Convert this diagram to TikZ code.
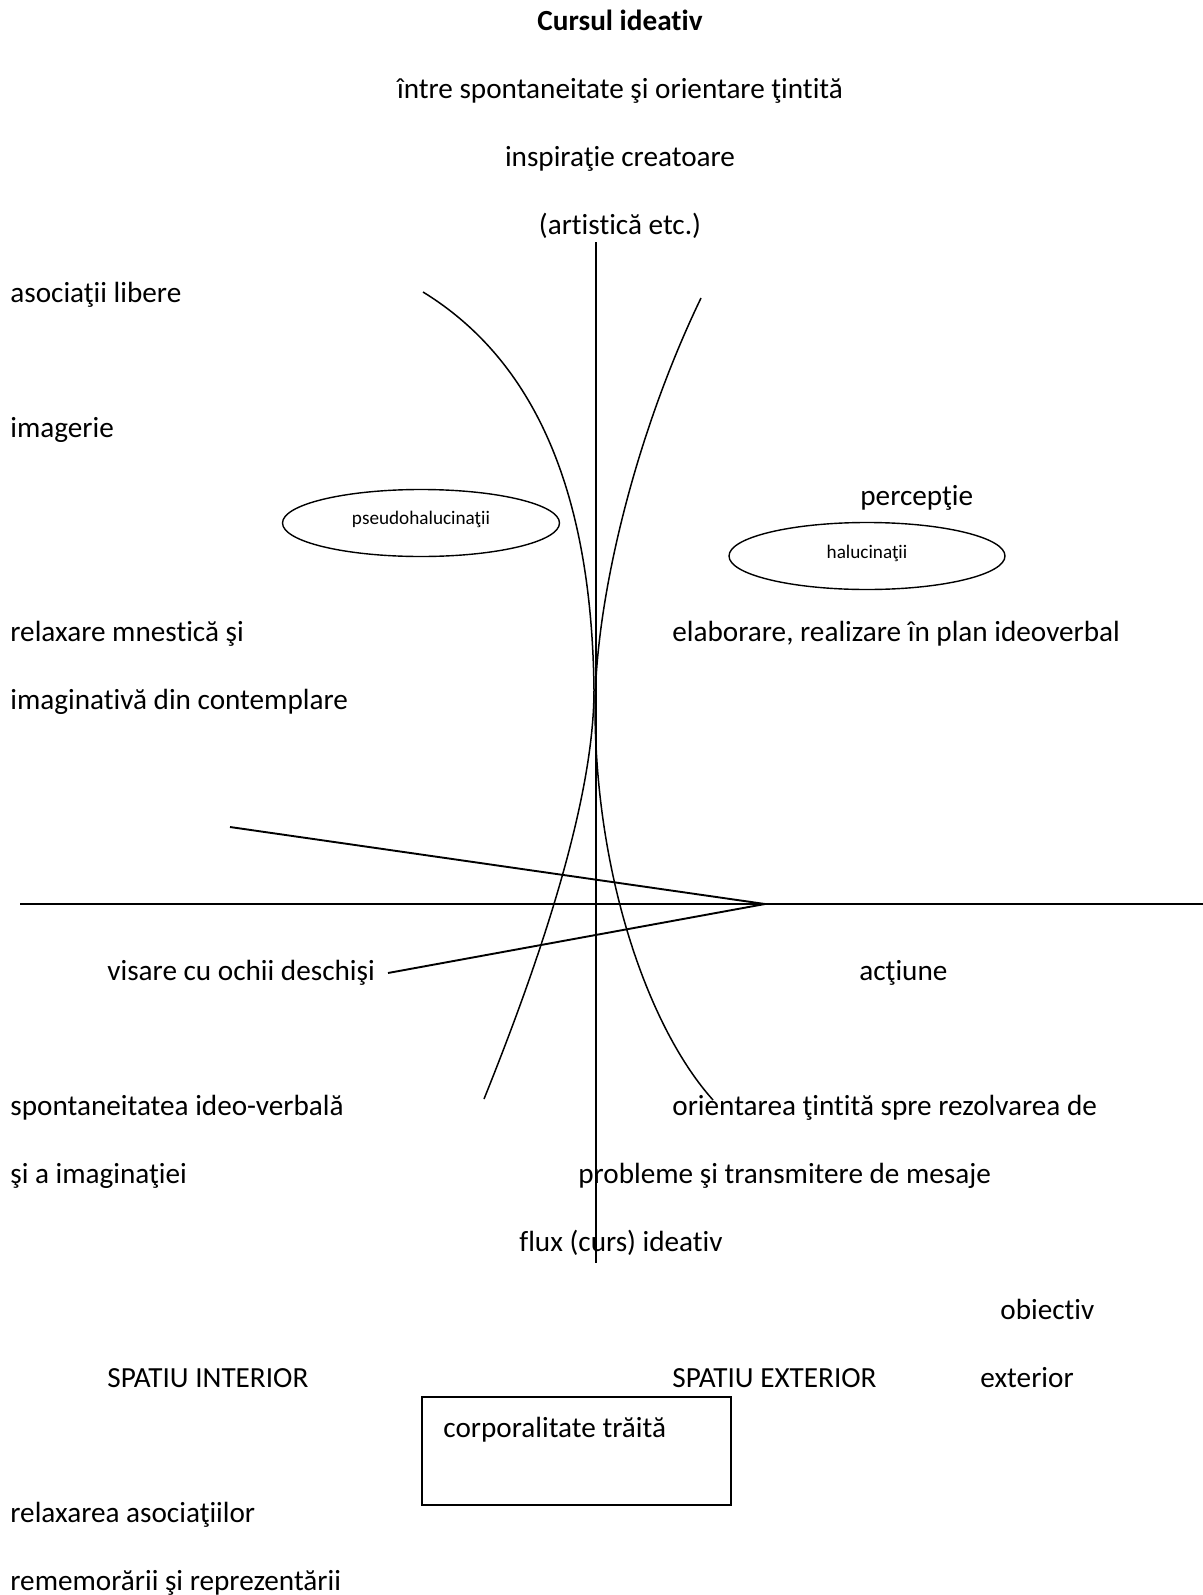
\documentclass[tikz,border=0pt]{standalone}
\usepackage{fontspec}
\setmainfont{Carlito}[Ligatures=NoCommon]
\usetikzlibrary{shapes.geometric}

\begin{document}
\begin{tikzpicture}[
    x=0.5pt, y=-0.5pt,
    txt/.style={inner sep=0pt, yshift=-1.5pt, font=\fontsize{14.6}{17.5}\selectfont},
    lefttext/.style={txt, anchor=base west},
    midtext/.style={txt, anchor=base},
    oval/.style={ellipse, draw, line width=0.7pt, minimum height=33.5pt,
      inner sep=0pt, font=\fontsize{9.6}{11}\selectfont},
    axisline/.style={line width=0.95pt},
    curve/.style={line width=0.75pt},
  ]
    \useasboundingbox (0,0) rectangle (1203,1595);

    \node[midtext, font=\fontsize{14.6}{17.5}\selectfont\bfseries] (title) at (620,28) {Cursul ideativ};
    \node[midtext] (between) at (620,95.8) {între spontaneitate şi orientare ţintită};
    \node[midtext] (inspir) at (620,163.6) {inspiraţie creatoare};
    \node[midtext] (artist) at (620,231.4) {(artistică etc.)};

    \node[lefttext] (assoc) at (10,299.2) {asociaţii libere};
    \node[lefttext] (imag) at (10,434.8) {imagerie};
    \node[lefttext] (percep) at (860,502.6) {percepţie};
    \node[lefttext] (relax) at (10,638.2) {relaxare mnestică şi};
    \node[lefttext] (elab) at (672,638.2) {elaborare, realizare în plan ideoverbal};
    \node[lefttext] (contempl) at (10,706) {imaginativă din contemplare};

    \node[oval, minimum width=138.5pt, text depth=0.5em] (pseudo) at (421,523) {pseudohalucinaţii};
    \node[oval, minimum width=138pt, text depth=0.4em] (haluc) at (867,556) {halucinaţii};

    \node[lefttext] (visare) at (107,977.2) {visare cu ochii deschişi};
    \node[lefttext] (actiune) at (859,977.2) {acţiune};
    \node[lefttext] (spont) at (10,1112.8) {spontaneitatea ideo-verbală};
    \node[lefttext] (orient) at (672,1112.8) {orientarea ţintită spre rezolvarea de};
    \node[lefttext] (imagin) at (10,1180.6) {şi a imaginaţiei};
    \node[lefttext] (probl) at (578,1180.6) {probleme şi transmitere de mesaje};
    \node[lefttext] (flux) at (519,1248.4) {flux (curs) ideativ};
    \node[lefttext] (obiect) at (1000,1316.2) {obiectiv};
    \node[lefttext] (spint) at (107,1384) {SPATIU INTERIOR};
    \node[lefttext] (spext) at (672,1384) {SPATIU EXTERIOR};
    \node[lefttext] (exter) at (980,1384) {exterior};

    \node[draw, line width=1pt, anchor=north west, minimum width=154.5pt,
      minimum height=54pt, inner sep=0pt] (corpbox) at (421,1396) {};
    \node[lefttext] (corp) at (443,1434) {corporalitate trăită};

    \node[lefttext] (relaxa) at (10,1519.6) {relaxarea asociaţiilor};
    \node[lefttext] (rememor) at (10,1587.4) {rememorării şi reprezentării};

    \coordinate (hleft) at (20,904);
    \coordinate (hright) at (1203,904);
    \coordinate (vtop) at (596,242);
    \coordinate (vbot) at (596,1263);
    \coordinate (apex) at (765,904);
    \coordinate (upend) at (230,827);
    \coordinate (visend) at (388,973);

    \draw[axisline] (hleft) -- (hright);
    \draw[axisline] (vtop) -- (vbot);
    \draw[axisline] (upend) -- (apex) -- (visend);

    \draw[curve] (423,292) .. controls (550,370) and (592,520) .. (594,690)
      .. controls (594,800) and (540,960) .. (484,1099);
    \draw[curve] (701,298) .. controls (635,435) and (595,600) .. (595,710)
      .. controls (596,880) and (650,1030) .. (713,1100);
\end{tikzpicture}
\end{document}
